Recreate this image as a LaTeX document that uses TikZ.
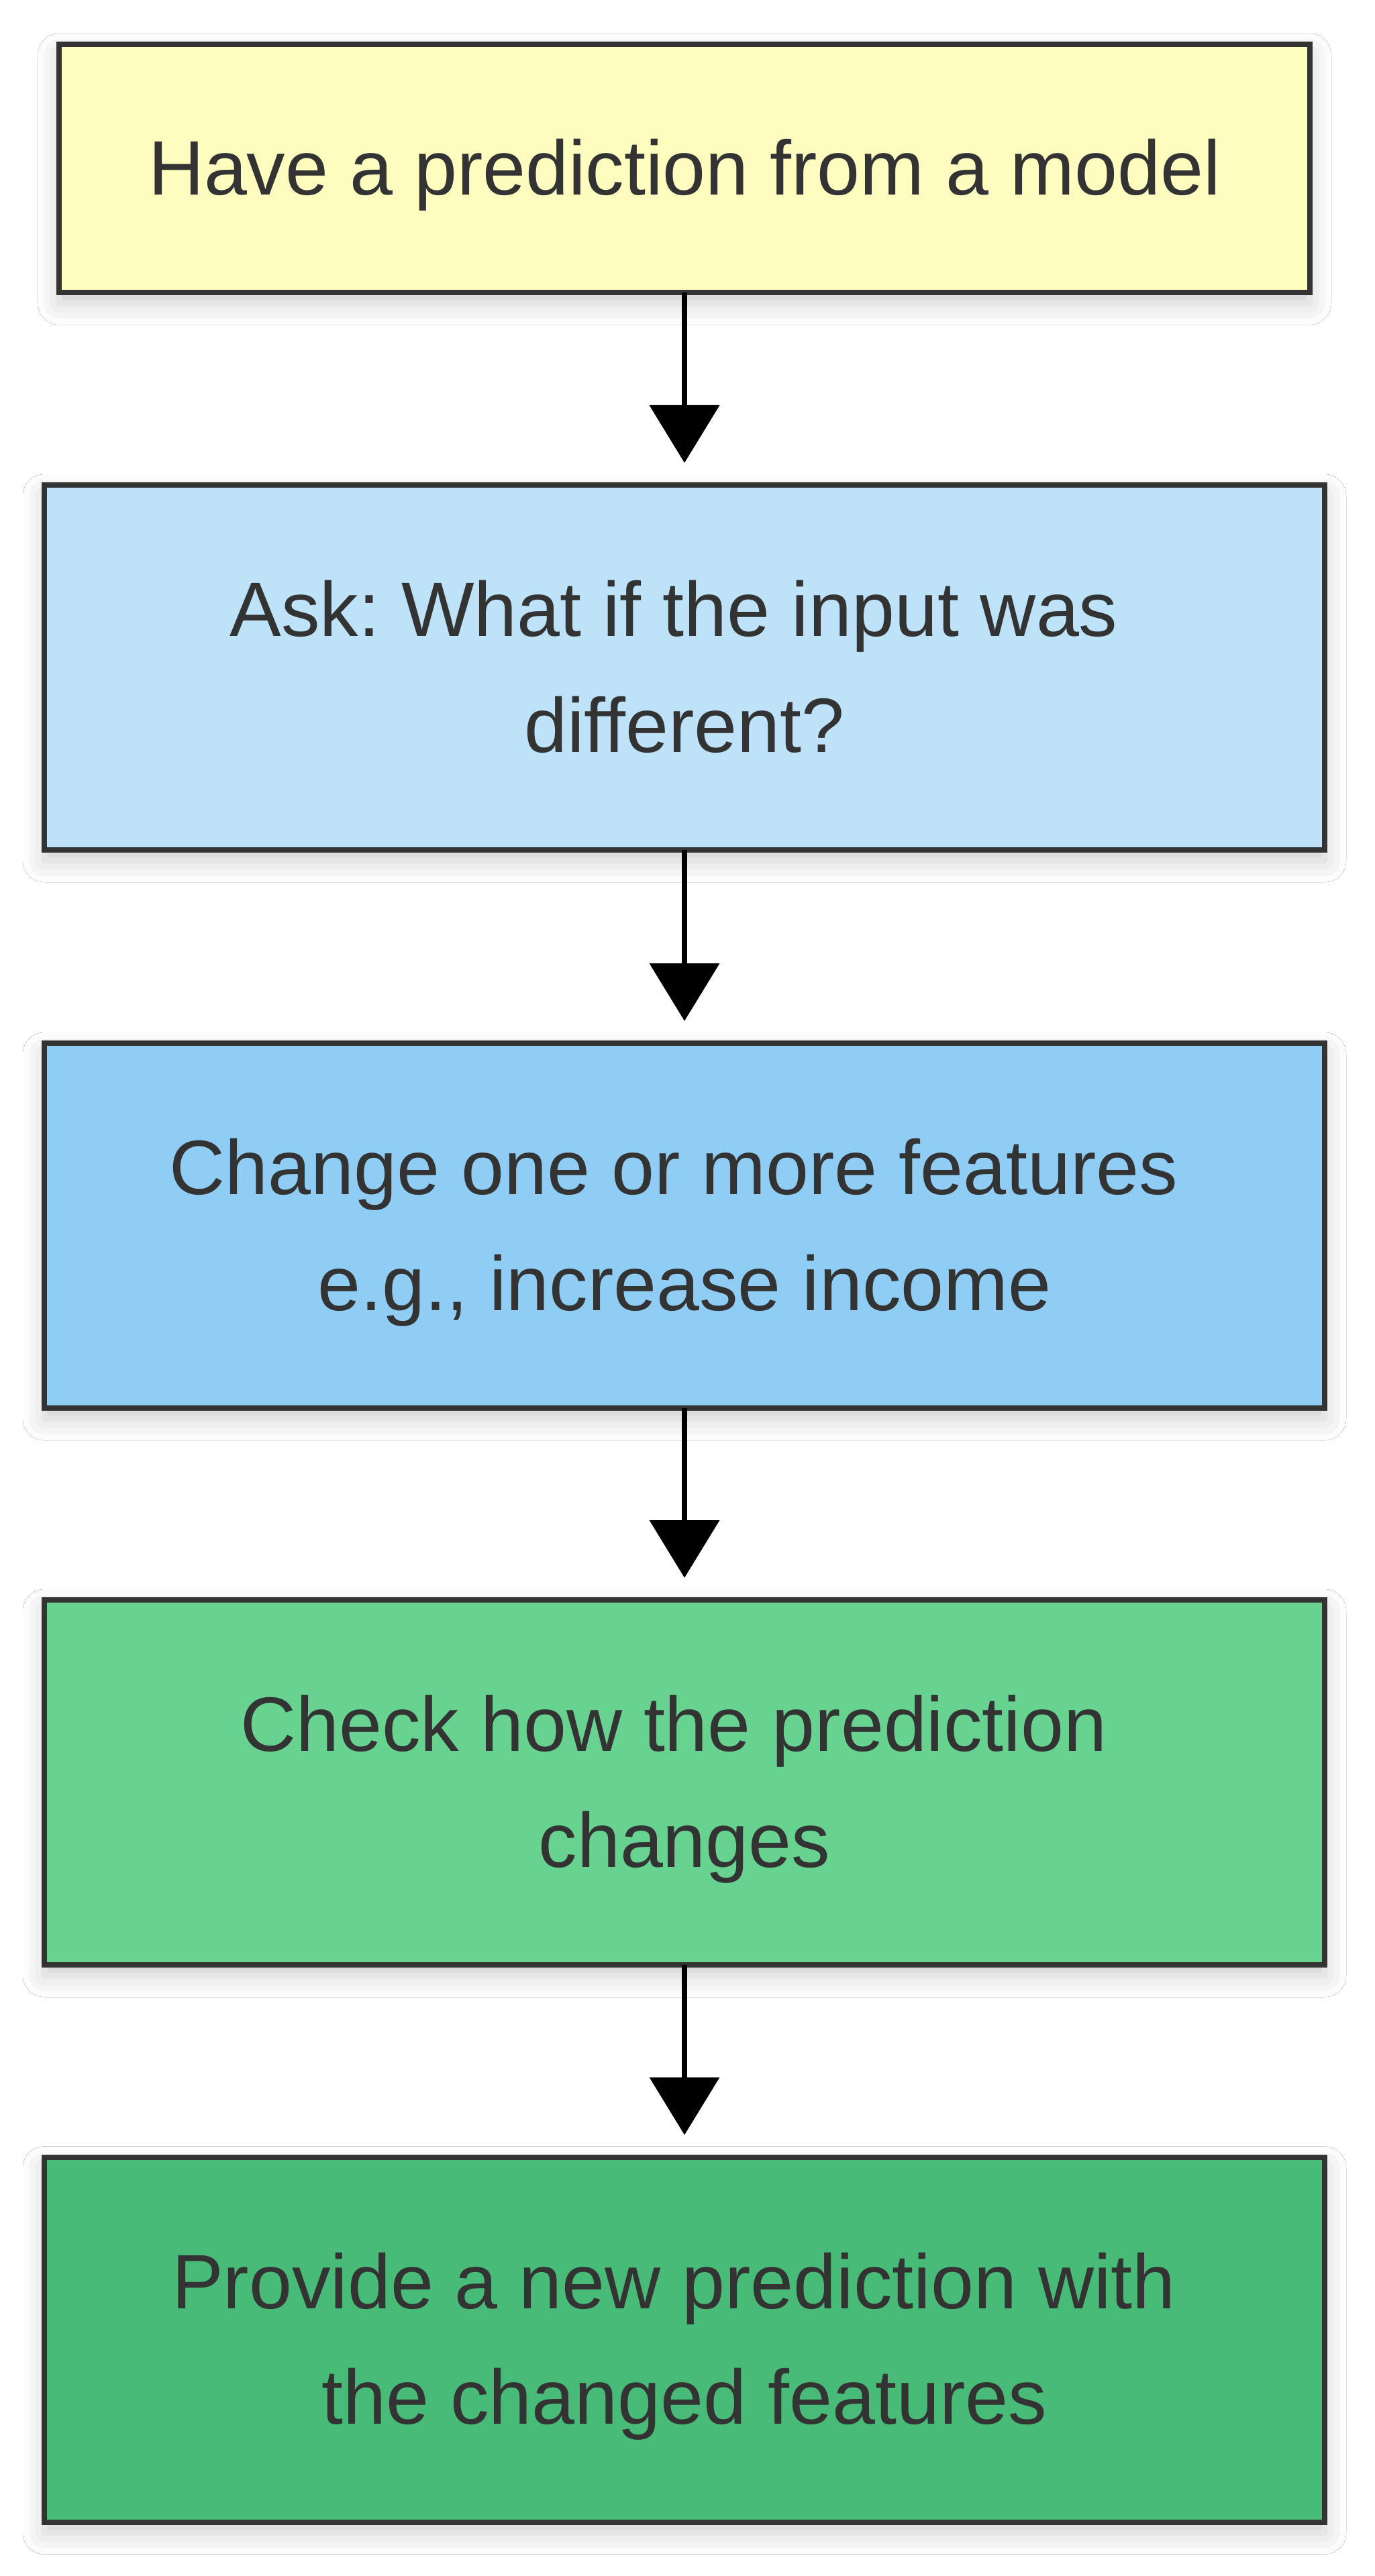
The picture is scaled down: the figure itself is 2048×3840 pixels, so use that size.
\documentclass[tikz,border=0pt]{standalone}
\usepackage{fontspec}
\setmainfont{Liberation Sans}
\usetikzlibrary{arrows.meta,shadows.blur}
\definecolor{cyellow}{HTML}{FEFCBF}
\definecolor{cblueA}{HTML}{BEE3F8}
\definecolor{cblueB}{HTML}{90CDF4}
\definecolor{cgreenA}{HTML}{68D391}
\definecolor{cgreenB}{HTML}{48BB78}
\definecolor{cborder}{HTML}{333333}
\definecolor{ctext}{HTML}{333333}
\newcommand{\trailsp}{\kern0.278em}
\tikzset{
  stepbox/.style={draw=cborder, line width=2pt, rectangle, inner sep=0pt, outer sep=0pt,
    minimum width=477pt, minimum height=136pt, align=center, text=ctext,
    font=\fontsize{28.75pt}{43.125pt}\selectfont\frenchspacing, text height=31.5pt, text depth=11.62pt,
    blur shadow={shadow xshift=0pt, shadow yshift=-4pt, shadow blur radius=8pt, shadow opacity=20}},
  twolines/.style={text height=74.625pt, text depth=11.62pt},
  flowarrow/.style={line width=2pt, black, -{Triangle[width=25.75pt,length=21.5pt]}, shorten >=8.25pt}
}
\begin{document}
\begin{tikzpicture}[x=0.25pt,y=-0.25pt]
\useasboundingbox (0,0) rectangle (2048,3840);
\fill[white] (0,0) rectangle (2048,3840);
\node[stepbox, fill=cyellow, minimum width=466pt, minimum height=92.5pt] (b1) at (1020,251) {Have a prediction from a model};
\node[stepbox, twolines, fill=cblueA] (b2) at (1020,995) {Ask: What if the input was\trailsp\\different?};
\node[stepbox, twolines, fill=cblueB] (b3) at (1020,1827) {Change one or more features\trailsp\\e.g., increase income};
\node[stepbox, twolines, fill=cgreenA] (b4) at (1020,2657) {Check how the prediction\trailsp\\changes};
\node[stepbox, twolines, fill=cgreenB] (b5) at (1020,3487.5) {Provide a new prediction with\trailsp\\the changed features};
\draw[flowarrow] (b1.south) -- (b2.north);
\draw[flowarrow] (b2.south) -- (b3.north);
\draw[flowarrow] (b3.south) -- (b4.north);
\draw[flowarrow] (b4.south) -- (b5.north);
\end{tikzpicture}
\end{document}
